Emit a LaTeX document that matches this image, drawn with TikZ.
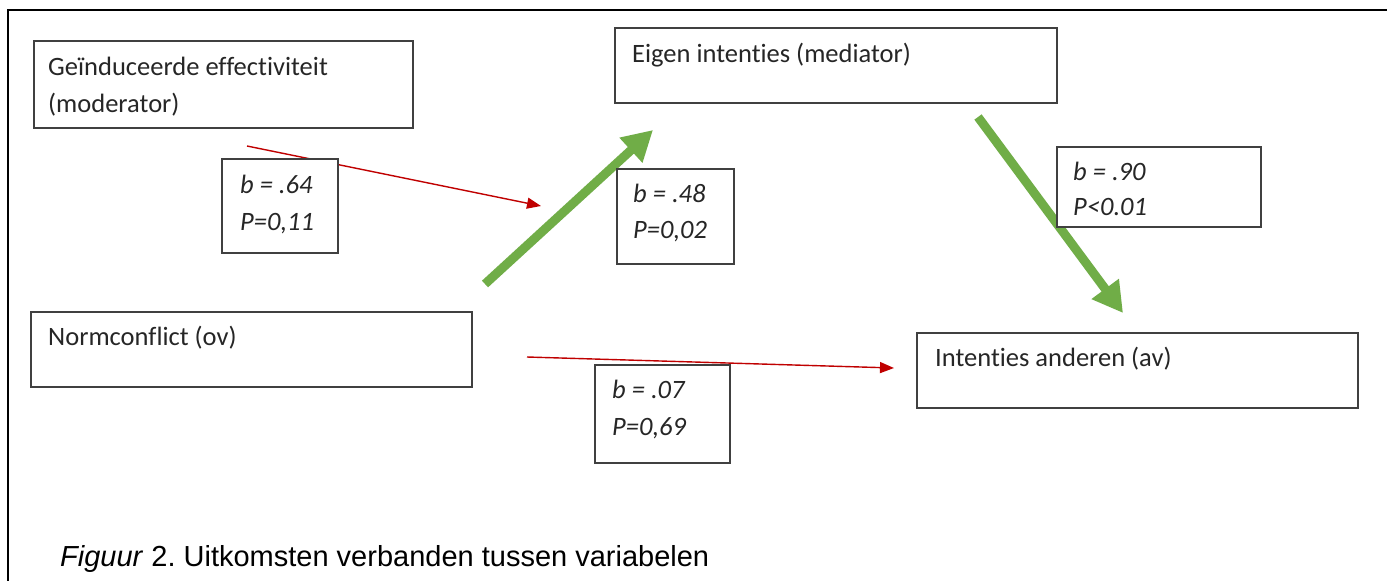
\documentclass[tikz,border=0pt]{standalone}
\usepackage{fontspec}
\setmainfont[Ligatures={NoCommon}]{Carlito}
\newfontfamily\capfont{Liberation Sans}
\usetikzlibrary{arrows.meta}
\definecolor{boxline}{HTML}{404040}
\definecolor{txt}{HTML}{262626}
\definecolor{redarr}{HTML}{C00000}
\definecolor{greenarr}{HTML}{70AD47}
\frenchspacing
\begin{document}
\begin{tikzpicture}[x=1pt,y=-1pt,
  varbox/.style={draw=boxline, line width=1.5pt, anchor=north west, inner sep=0pt},
  lbl/.style={anchor=base west, inner sep=0pt, text=txt, font=\fontsize{26.5}{30}\selectfont},
  stat/.style={lbl, font=\fontsize{26.5}{30}\selectfont\itshape},
  redlink/.style={draw=redarr, line width=1.4pt, -{Triangle[length=14pt,width=11pt]}},
  greenlink/.style={draw=greenarr, line width=9pt, -{Triangle[length=30pt,width=32pt]}}
]
\useasboundingbox (0,0) rectangle (1387,581);
\fill[white] (0,0) rectangle (1387,581);
% outer frame (top and left)
\draw[line width=2pt, black] (1387,10) -- (8,10) -- (8,581);

% variable boxes
\node[varbox, minimum width=379pt, minimum height=87pt] (mod) at (33,40) {};
\node[lbl] (modt1) at (48,75) {Geïnduceerde effectiviteit};
\node[lbl] (modt2) at (48,112) {(moderator)};

\node[varbox, minimum width=442pt, minimum height=75pt] (med) at (614,27) {};
\node[lbl] (medt) at (632,62) {Eigen intenties (mediator)};

\node[varbox, minimum width=441pt, minimum height=75pt] (ov) at (30,311) {};
\node[lbl] (ovt) at (48,345) {Normconflict (ov)};

\node[varbox, minimum width=441pt, minimum height=75pt] (av) at (916,332) {};
\node[lbl] (avt) at (935,366) {Intenties anderen (av)};

% arrow endpoints
\coordinate (r1s) at (247,146);
\coordinate (r1e) at (541,206);
\coordinate (r2s) at (527,357);
\coordinate (r2e) at (894,368);
\coordinate (g1s) at (485,284);
\coordinate (g1e) at (653,130);
\coordinate (g2s) at (978,117);
\coordinate (g2e) at (1123,313);

\draw[redlink] (r1s) -- (r1e);
\draw[redlink] (r2s) -- (r2e);
\draw[greenlink] (g1s) -- (g1e);
\draw[greenlink] (g2s) -- (g2e);

% statistic boxes
\node[varbox, fill=white, minimum width=116pt, minimum height=94pt] (s1) at (221,158) {};
\node[stat] (s1a) at (240,193) {b = .64};
\node[stat] (s1b) at (240,230) {P=0,11};

\node[varbox, fill=white, minimum width=117pt, minimum height=95pt] (s2) at (616,168) {};
\node[stat] (s2a) at (633,202) {b = .48};
\node[stat] (s2b) at (633,238) {P=0,02};

\node[varbox, fill=white, minimum width=204pt, minimum height=80pt] (s3) at (1056,146) {};
\node[stat] (s3a) at (1073,180) {b = .90};
\node[stat] (s3b) at (1073,215) {P<0.01};

\node[varbox, fill=white, minimum width=135pt, minimum height=98pt] (s4) at (594,364) {};
\node[stat] (s4a) at (612,398) {b = .07};
\node[stat] (s4b) at (612,435) {P=0,69};

% caption
\node[anchor=base west, inner sep=0pt, font=\capfont\fontsize{29}{34}\selectfont] (cap) at (60,566) {\textit{Figuur} 2. Uitkomsten verbanden tussen variabelen};
\end{tikzpicture}
\end{document}
